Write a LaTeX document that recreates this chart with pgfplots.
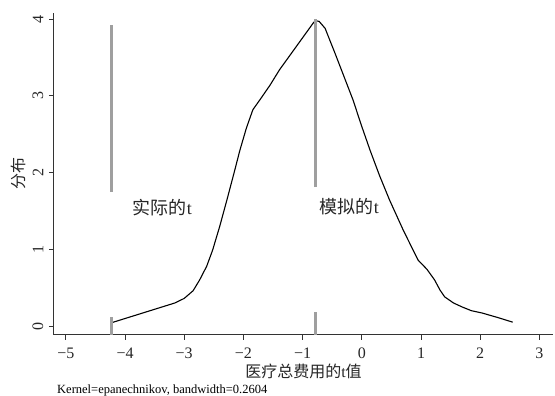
\documentclass[border=0pt]{standalone}
\usepackage{fontspec}
\setmainfont{Liberation Serif}
\newfontfamily\cjk{Noto Sans CJK SC}
\usepackage{pgfplots}
\pgfplotsset{compat=1.18}
\begin{document}
\begin{tikzpicture}
\path[use as bounding box] (-54pt,-61pt) rectangle (501pt,335pt);
\begin{axis}[
  at={(0,0)}, anchor=south west,
  scale only axis, width=499pt, height=322pt,
  xmin=-5.20, xmax=3.23, ymin=-0.117, ymax=4.08,
  axis x line*=bottom, axis y line*=left,
  axis line style={line width=1pt, color=black!80},
  xtick={-5,-4,-3,-2,-1,0,1,2,3},
  xticklabels={−5,−4,−3,−2,−1,0,1,2,3},
  ytick={0,1,2,3,4},
  yticklabels={0,1,2,3,4},
  tick align=outside, major tick length=5pt,
  tick style={line width=0.9pt, color=black!80},
  every tick label/.append style={font=\fontsize{16}{17}\selectfont, color=black!85},
  xticklabel style={anchor=center, yshift=-13pt},
  yticklabel style={rotate=90, anchor=center, yshift=11pt},
  xlabel={\cjk 医疗总费用的\rmfamily t\cjk 值},
  xlabel style={font=\fontsize{16}{17}\selectfont, color=black!85,
    at={(axis description cs:0.5,0)}, anchor=center, yshift=-36pt},
  ylabel={\cjk 分布},
  ylabel style={font=\fontsize{16}{17}\selectfont, color=black!85,
    at={(axis description cs:0,0.5)}, anchor=center, yshift=36pt},
  clip=false,
]
\addplot[black, line width=1.1pt] coordinates {
(-4.24,0.04) (-3.16,0.30) (-3.0,0.36) (-2.85,0.46) (-2.74,0.60) (-2.62,0.78)
(-2.52,0.99) (-2.40,1.30) (-2.28,1.64) (-2.15,2.02) (-2.06,2.29) (-1.95,2.58)
(-1.84,2.82) (-1.72,2.95) (-1.55,3.14) (-1.39,3.34) (-0.82,3.95) (-0.78,3.98) (-0.72,3.97)
(-0.62,3.88) (-0.45,3.55) (-0.30,3.25) (-0.15,2.95) (0.0,2.60) (0.14,2.29)
(0.30,1.96) (0.47,1.64) (0.70,1.25) (0.95,0.86) (1.10,0.74) (1.23,0.60)
(1.32,0.47) (1.40,0.38) (1.55,0.30) (1.69,0.25) (1.85,0.20) (2.03,0.17)
(2.30,0.11) (2.55,0.05)
};
\addplot[gray!75, line width=3pt] coordinates {(-4.23,1.75) (-4.23,3.92)};
\addplot[gray!75, line width=3pt] coordinates {(-4.23,-0.117) (-4.23,0.12)};
\addplot[gray!75, line width=3pt] coordinates {(-0.78,1.81) (-0.78,4.0)};
\addplot[gray!75, line width=3pt] coordinates {(-0.78,-0.117) (-0.78,0.18)};
\node[anchor=west, font=\fontsize{18}{19}\selectfont, inner sep=0pt, color=black!85] at (axis cs:-3.87,1.55) {\cjk 实际的\rmfamily t};
\node[anchor=west, font=\fontsize{18}{19}\selectfont, inner sep=0pt, color=black!85] at (axis cs:-0.71,1.55) {\cjk 模拟的\rmfamily t};
\end{axis}
\node[anchor=west, font=\fontsize{12.5}{13}\selectfont, inner sep=0pt] at (3pt,-55pt) {Kernel=epanechnikov, bandwidth=0.2604};
\end{tikzpicture}
\end{document}
